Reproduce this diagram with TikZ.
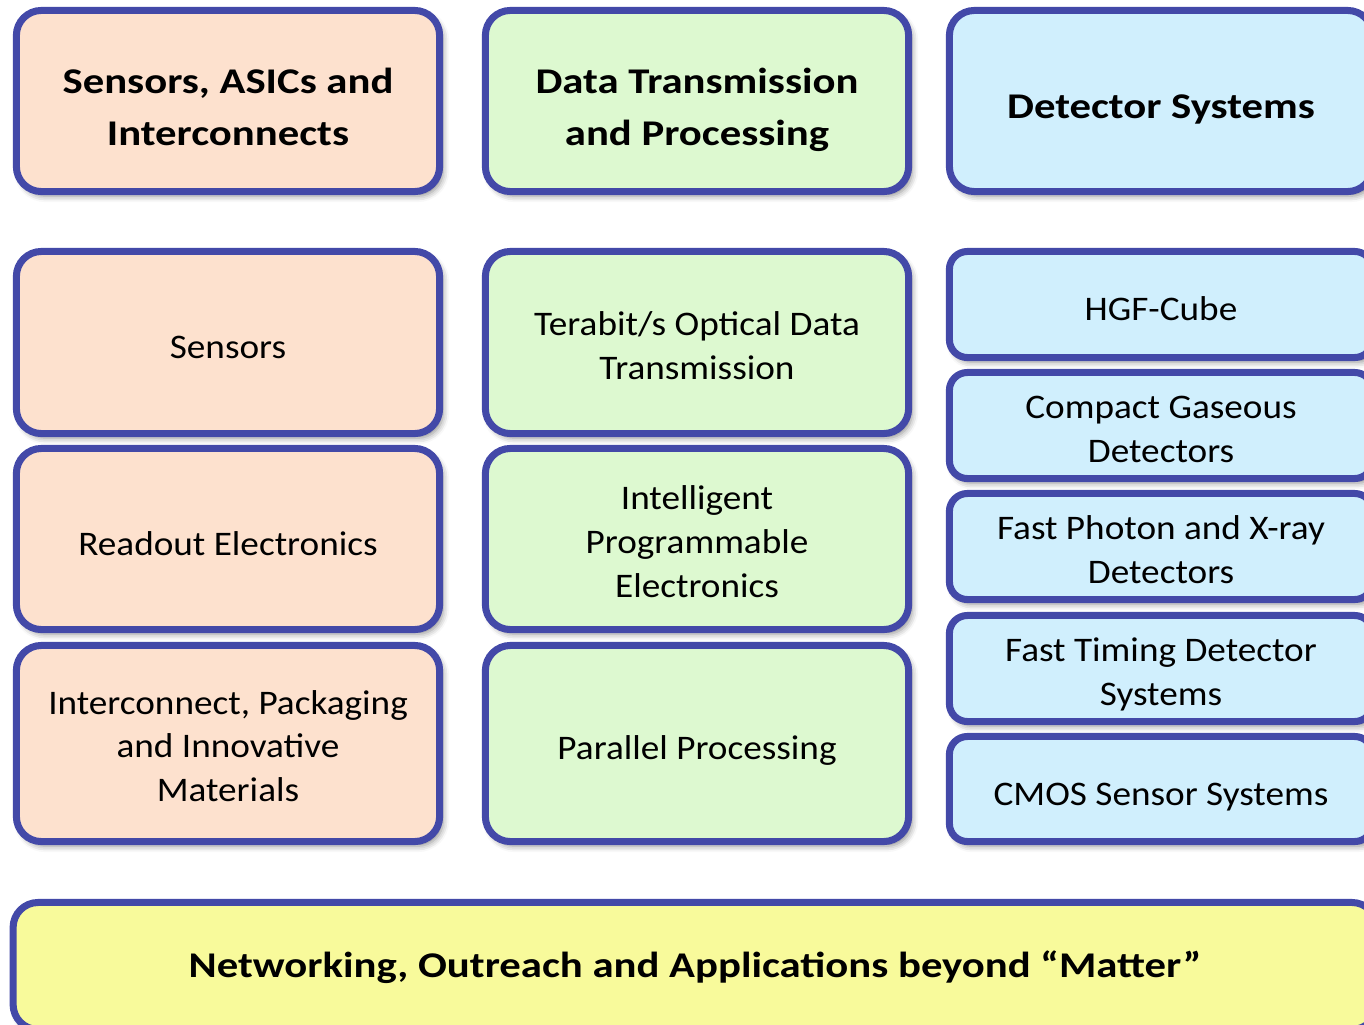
\documentclass[tikz,border=0pt]{standalone}
\usepackage{fontspec}
\setmainfont{Carlito}[FakeStretch=1.08]
\newfontfamily\headfont{Carlito}[FakeStretch=1.18]
\usepackage{tikz}
\usetikzlibrary{positioning,shadows,shadows.blur}

\definecolor{frame}{RGB}{67,73,168}
\definecolor{peach}{RGB}{253,225,206}
\definecolor{mint}{RGB}{221,249,208}
\definecolor{sky}{RGB}{208,239,253}
\definecolor{lemon}{RGB}{248,250,155}

\tikzset{
  tile/.style={draw=frame, line width=2pt, rounded corners=0.25cm, align=center,
    inner sep=0pt, text=black, text depth=0pt,
    blur shadow={shadow xshift=0.035cm, shadow yshift=-0.045cm,
      shadow blur radius=0.06cm, shadow opacity=45}},
  bar/.style={tile, font=\headfont\fontsize{10.3}{14.7}\selectfont\bfseries},
  % a strut on the first line pushes the text a little lower in the tile
  head/.style={bar, execute at begin node={\rule{0pt}{0.34cm}}},
  body/.style={tile, font=\fontsize{9.8}{12.4}\selectfont,
    execute at begin node={\rule{0pt}{0.32cm}}},
  slim/.style={body, rounded corners=0.18cm},
  % same push for text on several lines
  headtwo/.style={text height=0.88cm},
  two/.style={text height=0.74cm},
  three/.style={text height=1.16cm},
}

\begin{document}
\begin{tikzpicture}[x=0.01cm, y=-0.01cm]
  \useasboundingbox (0,0) rectangle (1364,1024);
  % three column headers
  \node[head, headtwo, fill=peach, minimum width=4.23cm, minimum height=1.81cm] (hsens) at (228,101)
    {Sensors, ASICs and\\Interconnects};
  \node[head, headtwo, fill=mint, minimum width=4.23cm, minimum height=1.81cm] (hdata) at (697,101)
    {Data Transmission\\and Processing};
  \node[head, fill=sky, minimum width=4.23cm, minimum height=1.81cm] (hdet) at (1161,101)
    {Detector Systems};

  % left column
  \node[body, fill=peach, minimum width=4.23cm, minimum height=1.82cm] (sens) at (228,342.5)
    {Sensors};
  \node[body, fill=peach, minimum width=4.23cm, minimum height=1.81cm] (readout) at (228,539)
    {Readout Electronics};
  \node[body, three, fill=peach, minimum width=4.23cm, minimum height=1.96cm] (intercon) at (228,743.5)
    {Interconnect, Packaging\\and Innovative\\Materials};

  % middle column
  \node[body, two, fill=mint, minimum width=4.23cm, minimum height=1.82cm] (optical) at (697,342.5)
    {Terabit/s Optical Data\\Transmission};
  \node[body, three, fill=mint, minimum width=4.23cm, minimum height=1.81cm] (progel) at (697,539)
    {Intelligent\\Programmable\\Electronics};
  \node[body, fill=mint, minimum width=4.23cm, minimum height=1.96cm] (parallel) at (697,743.5)
    {Parallel Processing};

  % right column, five thinner tiles
  \node[slim, fill=sky, minimum width=4.23cm, minimum height=1.06cm] (hgf) at (1161,304.5)
    {HGF-Cube};
  \node[slim, two, fill=sky, minimum width=4.23cm, minimum height=1.06cm] (gas) at (1161,425.5)
    {Compact Gaseous\\Detectors};
  \node[slim, two, fill=sky, minimum width=4.23cm, minimum height=1.06cm] (photon) at (1161,546.5)
    {Fast Photon and X-ray\\Detectors};
  \node[slim, two, fill=sky, minimum width=4.23cm, minimum height=1.06cm] (timing) at (1161,668.5)
    {Fast Timing Detector\\Systems};
  \node[slim, fill=sky, minimum width=4.23cm, minimum height=1.05cm] (cmos) at (1161,789)
    {CMOS Sensor Systems};

  % bottom bar
  \node[bar, fill=lemon, text depth=0.03cm, minimum width=13.63cm, minimum height=1.27cm]
    (network) at (695,966) {Networking, Outreach and Applications beyond “Matter”};
\end{tikzpicture}
\end{document}
